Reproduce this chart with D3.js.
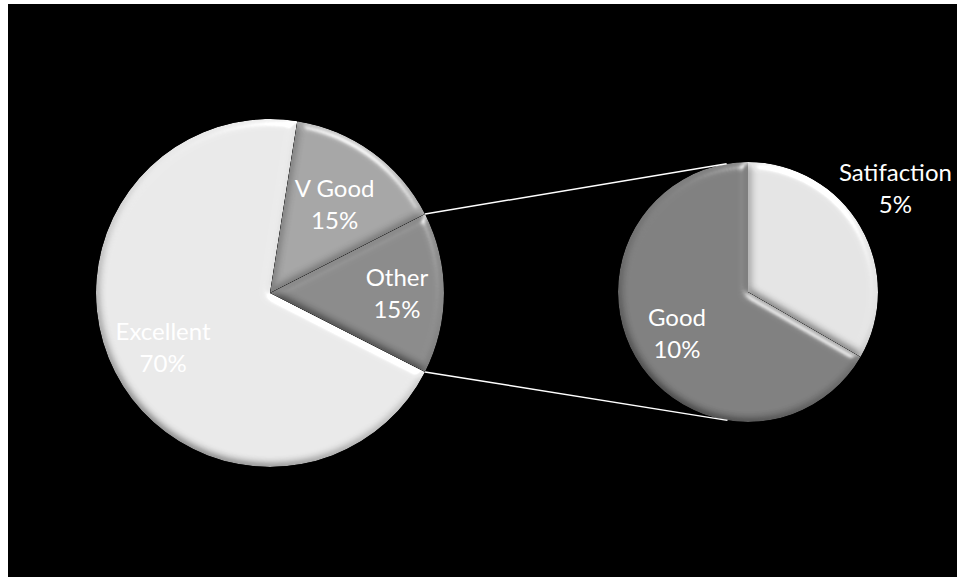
<!DOCTYPE html>
<html>
<head>
<meta charset="utf-8">
<script src="https://cdn.jsdelivr.net/npm/d3@7"></script>
<style>
  html, body { margin: 0; padding: 0; background: #ffffff; }
  svg { display: block; }
</style>
</head>
<body>
<svg id="chart" width="957" height="577"></svg>
<script>
// ---- data ----
const mainCategories = ["Excellent", "V Good", "Other"];
const mainValues = [70, 15, 15];
const subCategories = ["Good", "Satifaction"];
const subValues = [10, 5];
const mainColors = ["#e9e9e9", "#a5a5a5", "#8a8a8a"];
const subColors = ["#7f7f7f", "#e4e4e4"];

// ---- layout ----
const svg = d3.select("#chart");
svg.append("rect").attr("x", 8).attr("y", 4).attr("width", 949).attr("height", 573).attr("fill", "#000");

const defs = svg.append("defs");
const f = defs.append("filter").attr("id", "bevel")
  .attr("x", "-10%").attr("y", "-10%").attr("width", "120%").attr("height", "120%");
f.append("feGaussianBlur").attr("in", "SourceAlpha").attr("stdDeviation", 4).attr("result", "blur");
const dl = f.append("feDiffuseLighting").attr("in", "blur").attr("surfaceScale", 4)
  .attr("diffuseConstant", 1 / Math.sin(55 * Math.PI / 180)).attr("lighting-color", "#fff").attr("result", "diff");
dl.append("feDistantLight").attr("azimuth", -60).attr("elevation", 55);
f.append("feComposite").attr("in", "SourceGraphic").attr("in2", "diff").attr("operator", "arithmetic")
  .attr("k1", 1).attr("k2", 0).attr("k3", 0).attr("k4", 0).attr("result", "shaded");
const sl = f.append("feSpecularLighting").attr("in", "blur").attr("surfaceScale", 4)
  .attr("specularConstant", 0.5).attr("specularExponent", 40).attr("lighting-color", "#fff").attr("result", "spec");
sl.append("feDistantLight").attr("azimuth", -60).attr("elevation", 40);
f.append("feComposite").attr("in", "spec").attr("in2", "SourceAlpha").attr("operator", "in").attr("result", "specIn");
f.append("feComposite").attr("in", "shaded").attr("in2", "specIn").attr("operator", "arithmetic")
  .attr("k1", 0).attr("k2", 1).attr("k3", 1).attr("k4", 0).attr("result", "lit");
f.append("feComposite").attr("in", "lit").attr("in2", "SourceAlpha").attr("operator", "in");

const deg = Math.PI / 180;
const M = { cx: 270, cy: 293, r: 174 };
const S = { cx: 748, cy: 292, r: 130 };

const mainPie = d3.pie().sort(null).value(d => d).startAngle(117 * deg).endAngle(477 * deg);
const subPie = d3.pie().sort(null).value(d => d).startAngle(120 * deg).endAngle(480 * deg);
const mainArcs = mainPie(mainValues);
const subArcs = subPie(subValues);

const arcM = d3.arc().innerRadius(0).outerRadius(M.r);
const arcS = d3.arc().innerRadius(0).outerRadius(S.r);

const gM = svg.append("g").attr("transform", `translate(${M.cx},${M.cy})`);
gM.selectAll("path").data(mainArcs).join("path")
  .attr("d", arcM).attr("fill", (d, i) => mainColors[i]).attr("filter", "url(#bevel)");

const gS = svg.append("g").attr("transform", `translate(${S.cx},${S.cy})`);
gS.selectAll("path").data(subArcs).join("path")
  .attr("d", arcS).attr("fill", (d, i) => subColors[i]).attr("filter", "url(#bevel)");

// ---- connector lines (tangent to the secondary pie) ----
const other = mainArcs[2];
function pt(c, r, a) { return [c.cx + r * Math.sin(a), c.cy - r * Math.cos(a)]; }
function tangent(P, sign) {
  const dx = P[0] - S.cx, dy = P[1] - S.cy;
  const d = Math.hypot(dx, dy);
  const base = Math.atan2(dy, dx);
  const t = base + sign * Math.acos(S.r / d);
  return [S.cx + S.r * Math.cos(t), S.cy + S.r * Math.sin(t)];
}
const pTop = pt(M, M.r, other.startAngle);
const pBot = pt(M, M.r, other.endAngle);
const tTop = tangent(pTop, 1);
const tBot = tangent(pBot, -1);
svg.append("line").attr("x1", pTop[0]).attr("y1", pTop[1]).attr("x2", tTop[0]).attr("y2", tTop[1])
  .attr("stroke", "#fff").attr("stroke-width", 1.5);
svg.append("line").attr("x1", pBot[0]).attr("y1", pBot[1]).attr("x2", tBot[0]).attr("y2", tBot[1])
  .attr("stroke", "#fff").attr("stroke-width", 1.5);

// ---- labels ----
const fontSize = 24;
function label(g, arcs, cats, posFn) {
  arcs.forEach((d, i) => {
    const [r, a] = posFn(d, i);
    const x = r * Math.sin(a), y = -r * Math.cos(a);
    const t = g.append("text").attr("x", x).attr("y", y)
      .attr("text-anchor", "middle").attr("fill", "#fff")
      .style("font-family", "Lato, 'Open Sans', sans-serif").style("font-size", fontSize + "px");
    t.append("tspan").attr("x", x).attr("dy", -7.5).text(cats[i]);
    t.append("tspan").attr("x", x).attr("dy", 32).text(Math.round(d.value) + "%");
  });
}
const mid = d => (d.startAngle + d.endAngle) / 2;
label(gM, mainArcs, mainCategories, (d, i) => [[120, 110, 127][i], mid(d)]);
label(gS, subArcs, subCategories, (d, i) => i === 0 ? [82, mid(d)] : [180, 55 * deg]);
</script>
</body>
</html>
